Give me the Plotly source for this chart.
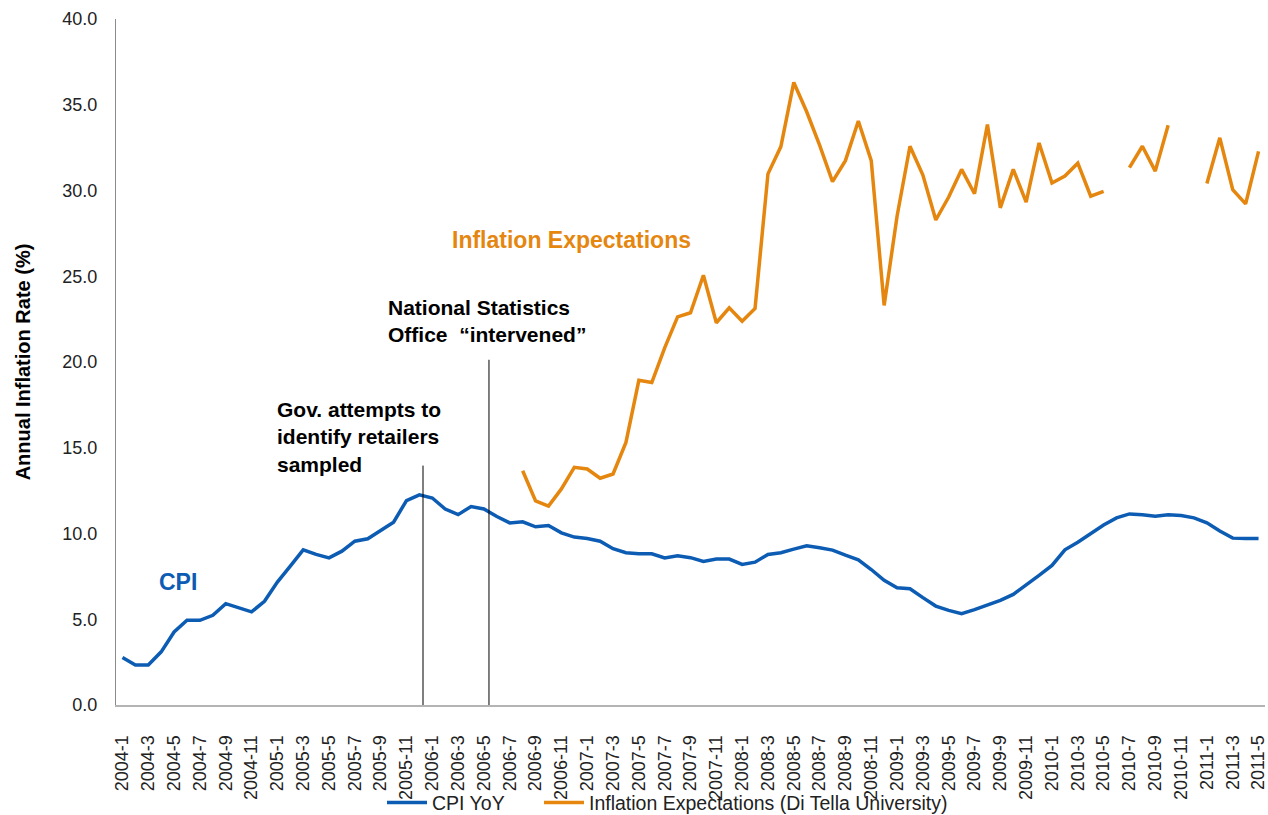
import plotly.graph_objects as go

# ---- data ----
start_year = 2004
n_months = 89
month_labels = [f"{start_year + k // 12}-{k % 12 + 1}" for k in range(n_months)]

cpi_yoy = [
    2.77, 2.33, 2.33, 3.10, 4.26, 4.94, 4.94, 5.23, 5.91, 5.68, 5.43, 6.05,
    7.17, 8.10, 9.05, 8.78, 8.58, 8.97, 9.55, 9.69, 10.17, 10.66, 11.92, 12.25,
    12.07, 11.43, 11.10, 11.57, 11.43, 10.99, 10.62, 10.68, 10.39, 10.47, 10.04, 9.79,
    9.71, 9.55, 9.11, 8.88, 8.82, 8.82, 8.57, 8.70, 8.59, 8.37, 8.51, 8.51,
    8.20, 8.33, 8.78, 8.88, 9.09, 9.28, 9.17, 9.03, 8.74, 8.47, 7.90, 7.27,
    6.84, 6.78, 6.26, 5.77, 5.52, 5.33, 5.56, 5.85, 6.10, 6.45, 6.98, 7.56,
    8.14, 9.05, 9.49, 10.02, 10.50, 10.91, 11.14, 11.09, 11.01, 11.09, 11.05, 10.91,
    10.62, 10.14, 9.73, 9.71, 9.71,
]

expectations = [None] * 31 + [
    13.66, 11.90, 11.60, 12.60, 13.86,
    13.76, 13.22, 13.47, 15.31, 18.93, 18.80, 20.83, 22.63, 22.87, 25.06, 22.29, 23.16,
    22.38, 23.12, 30.97, 32.56, 36.30, 34.59, 32.65, 30.52, 31.74, 34.05, 31.74, 23.30,
    28.50, 32.58, 30.90, 28.28, 29.62, 31.23, 29.81, 33.85, 28.99, 31.23, 29.32, 32.77,
    30.44, 30.84, 31.59, 29.67, 29.95, None, 31.33, 32.58, 31.13, 33.81, None, None,
    30.41, 33.07, 30.05, 29.22, 32.28,
]

series_names = ["CPI YoY", "Inflation Expectations (Di Tella University)"]
tick_step = 2
y_ticks = [0, 5, 10, 15, 20, 25, 30, 35, 40]

# ---- styling ----
BLUE = "#0D5CB3"
ORANGE = "#E5860F"
FONT = "Liberation Sans, Arial, sans-serif"

x_idx = list(range(n_months))

fig = go.Figure()
fig.add_trace(go.Scatter(
    x=x_idx, y=cpi_yoy, mode="lines", name=series_names[0],
    line=dict(color=BLUE, width=3.5), connectgaps=False, legend="legend",
))
fig.add_trace(go.Scatter(
    x=x_idx, y=expectations, mode="lines", name=series_names[1],
    line=dict(color=ORANGE, width=3.5), connectgaps=False, legend="legend2",
))

# event marker lines
fig.add_shape(type="line", xref="x", yref="y", x0=23.28, x1=23.28, y0=0, y1=13.96,
              line=dict(color="black", width=1))
fig.add_shape(type="line", xref="x", yref="y", x0=28.39, x1=28.39, y0=0, y1=20.13,
              line=dict(color="black", width=1))

annots = [
    dict(text="<b>Inflation Expectations</b>", x=25.4, y=27.13, color=ORANGE, size=23),
    dict(text="<b>National Statistics<br>Office  “intervened”</b>", x=20.4, y=22.4,
         color="black", size=21),
    dict(text="<b>Gov. attempts to<br>identify retailers<br>sampled</b>", x=11.8, y=15.65,
         color="black", size=21),
    dict(text="<b>CPI</b>", x=2.65, y=7.15, color=BLUE, size=23),
]
for a in annots:
    fig.add_annotation(
        text=a["text"], x=a["x"], y=a["y"], xref="x", yref="y",
        xanchor="left", yanchor="middle", align="left", showarrow=False,
        font=dict(family=FONT, size=a["size"], color=a["color"]),
    )

legend_common = dict(
    orientation="h", xref="container", yref="container",
    xanchor="left", y=0.015, yanchor="middle",
    font=dict(family=FONT, size=19.5, color="#222222"),
    itemwidth=40, bgcolor="rgba(0,0,0,0)",
)

fig.update_layout(
    width=1268, height=815,
    margin=dict(l=116, r=3, t=19, b=110, autoexpand=False),
    paper_bgcolor="white", plot_bgcolor="white",
    font=dict(family=FONT, size=18, color="#222222"),
    showlegend=True,
    legend=dict(legend_common, x=382 / 1268),
    legend2=dict(legend_common, x=539 / 1268),
)

fig.update_xaxes(
    range=[-0.5, n_months - 0.5],
    tickmode="array",
    tickvals=x_idx[::tick_step],
    ticktext=month_labels[::tick_step],
    tickangle=-90,
    tickfont=dict(family=FONT, size=18, color="#222222"),
    showline=True, linecolor="#B4B4B4", linewidth=2,
    showgrid=False, zeroline=False, ticks="", ticklabelstandoff=21,
    automargin=False, ticklabeloverflow="allow",
)
fig.update_yaxes(
    range=[0, 40],
    tickmode="array", tickvals=y_ticks,
    tickformat=".1f",
    tickfont=dict(family=FONT, size=18, color="#222222"),
    showline=True, linecolor="#8C8C8C", linewidth=1,
    showgrid=False, zeroline=False, ticks="", ticklabelstandoff=14,
    automargin=False,
    title=dict(text="<b>Annual Inflation Rate (%)</b>",
               font=dict(family=FONT, size=20, color="black"), standoff=26),
)

fig.write_html("out.html", config={"displayModeBar": False},
               post_script="document.body.style.margin='0px';")
